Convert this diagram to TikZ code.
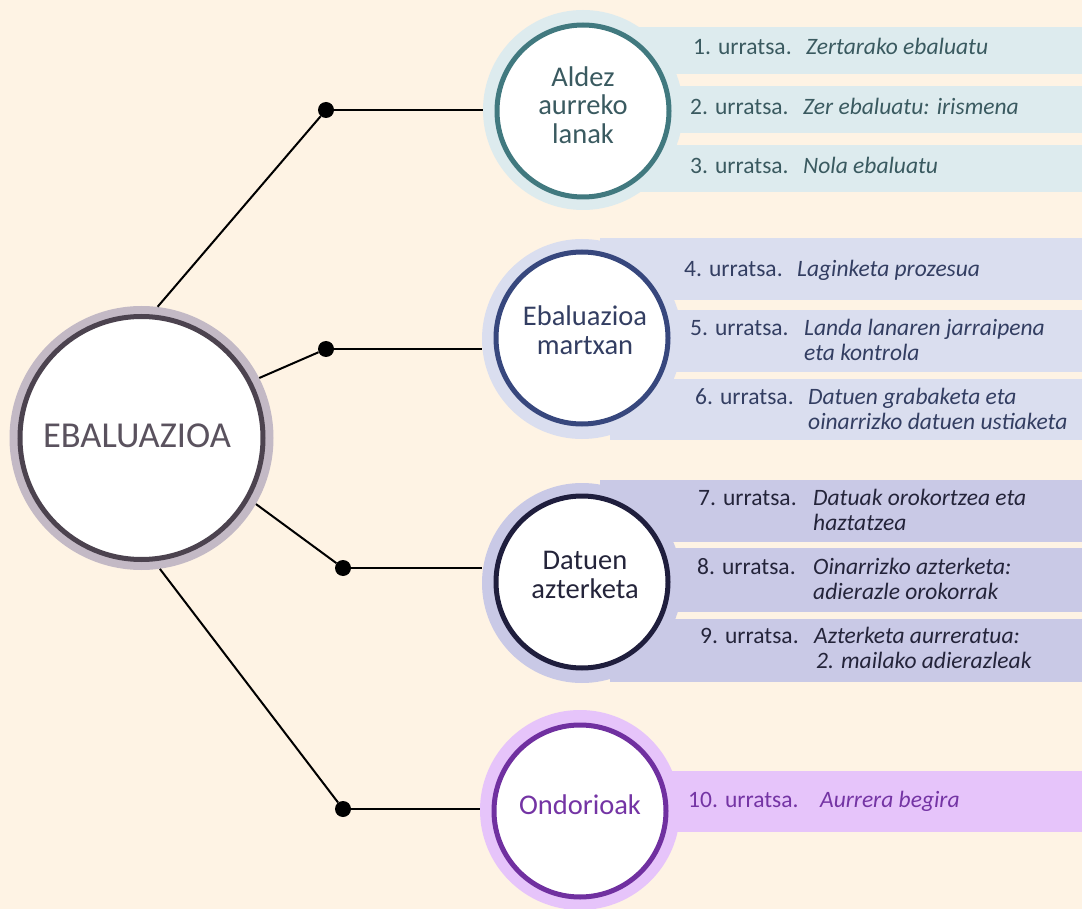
\documentclass[tikz,border=0pt]{standalone}
\usepackage{fontspec}
\setmainfont{Carlito}
\definecolor{bg}{HTML}{FEF3E4}
\definecolor{mhalo}{HTML}{C3B9C5}
\definecolor{mring}{HTML}{4C434F}
\definecolor{mtext}{HTML}{5A525E}
\definecolor{gAl}{HTML}{DDEBEE}
\definecolor{gAr}{HTML}{41797F}
\definecolor{gAt}{HTML}{3A5A60}
\definecolor{gBl}{HTML}{DADEEF}
\definecolor{gBr}{HTML}{37477D}
\definecolor{gBt}{HTML}{333E62}
\definecolor{gCl}{HTML}{C9C9E6}
\definecolor{gCr}{HTML}{1F1E3D}
\definecolor{gCt}{HTML}{24243A}
\definecolor{gDl}{HTML}{E6C4FA}
\definecolor{gDr}{HTML}{7030A0}
\definecolor{gDt}{HTML}{7434A4}
\newcommand{\twoline}[2]{\begin{tabular}[t]{@{}l@{}}#1\\#2\end{tabular}}
\begin{document}
\begin{tikzpicture}[x=1pt,y=-1pt,
  halo/.style={circle, minimum size=200, inner sep=0, outer sep=0},
  ringnode/.style={circle, draw, line width=5pt, fill=white, minimum size=172, inner sep=0},
  num/.style={anchor=base west, inner sep=0, font=\fontsize{23.5}{25}\selectfont},
  desc/.style={anchor=base west, inner sep=0, font=\fontsize{23.5}{25}\selectfont\itshape},
  ctext/.style={align=center, inner sep=0, font=\fontsize{28.5}{28.5}\selectfont},
  dotnode/.style={circle, fill=black, minimum size=16, inner sep=0},
  spoke/.style={line width=2pt},
  link/.style={line width=2.7pt}]
\fill[bg] (0,0) rectangle (1082,909);
\useasboundingbox (0,0) rectangle (1082,909);

% main circle
\node[circle, fill=mhalo, minimum size=264, inner sep=0] (mh) at (141.5,438) {};
\node[circle, draw=mring, line width=5pt, fill=white, minimum size=243, inner sep=0] (main) at (141.5,438) {};
\node[inner sep=0, text=mtext, font=\fontsize{36.5}{40}\selectfont] (mt) at (137,436) {EBALUAZIOA};

% halos
\node[halo, fill=gAl] (h1) at (583,110) {};
\node[halo, fill=gBl] (h2) at (582,339) {};
\node[halo, fill=gCl] (h3) at (582,583) {};
\node[halo, fill=gDl] (h4) at (580,810) {};

% bands
\fill[gAl] (610,27) rectangle (1082,74);
\fill[gAl] (610,86) rectangle (1082,133);
\fill[gAl] (610,145) rectangle (1082,192);
\fill[gBl] (600,238) rectangle (1082,300);
\fill[gBl] (610,310) rectangle (1082,372);
\fill[gBl] (610,379) rectangle (1082,440);
\fill[gCl] (600,480) rectangle (1082,542);
\fill[gCl] (610,548) rectangle (1082,612);
\fill[gCl] (610,619) rectangle (1082,682);
\fill[gDl] (610,771) rectangle (1082,832);

% rings
\node[ringnode, draw=gAr] (r1) at (583,111) {};
\node[ringnode, draw=gBr] (r2) at (582,338) {};
\node[ringnode, draw=gCr] (r3) at (582,582) {};
\node[ringnode, draw=gDr] (r4) at (580,811) {};

\node[ctext, text=gAt] (c1) at (583,105) {Aldez\\aurreko\\lanak};
\node[ctext, text=gBt] (c2) at (585,330) {Ebaluazioa\\martxan};
\node[ctext, text=gCt] (c3) at (585,575) {Datuen\\azterketa};
\node[ctext, text=gDt] (c4) at (580,805) {Ondorioak};

% dots and connectors
\node[dotnode] (d1) at (326,110) {};
\node[dotnode] (d2) at (326,349) {};
\node[dotnode] (d3) at (343,568) {};
\node[dotnode] (d4) at (343,809) {};
\draw[spoke] (d1) -- (mh.83);
\draw[spoke] (d2) -- (mh.27);
\draw[spoke] (d3) -- (mh.-30);
\draw[spoke] (d4) -- (mh.-82);
\draw[link] (d1) -- (d1 -| h1.west);
\draw[link] (d2) -- (d2 -| h2.west);
\draw[link] (d3) -- (d3 -| h3.west);
\draw[link] (d4) -- (d4 -| h4.west);

% steps group 1
\node[num, text=gAt] (n1) at (693,55) {1. urratsa.};
\node[desc, text=gAt] (s1) at (806,55) {Zertarako ebaluatu};
\node[num, text=gAt] (n2) at (690,115) {2. urratsa.};
\node[desc, text=gAt] (s2) at (803,115) {Zer ebaluatu: irismena};
\node[num, text=gAt] (n3) at (690,174) {3. urratsa.};
\node[desc, text=gAt] (s3) at (803,174) {Nola ebaluatu};
% group 2
\node[num, text=gBt] (n4) at (684,277) {4. urratsa.};
\node[desc, text=gBt] (s4) at (797,277) {Laginketa prozesua};
\node[num, text=gBt] (n5) at (690,336) {5. urratsa.};
\node[desc, text=gBt] (s5) at (804,336) {\twoline{Landa lanaren jarraipena}{eta kontrola}};
\node[num, text=gBt] (n6) at (695,404) {6. urratsa.};
\node[desc, text=gBt] (s6) at (808,404) {\twoline{Datuen grabaketa eta}{oinarrizko datuen ustiaketa}};
% group 3
\node[num, text=gCt] (n7) at (698,505) {7. urratsa.};
\node[desc, text=gCt] (s7) at (813,505) {\twoline{Datuak orokortzea eta}{haztatzea}};
\node[num, text=gCt] (n8) at (697,574) {8. urratsa.};
\node[desc, text=gCt] (s8) at (813,574) {\twoline{Oinarrizko azterketa:}{adierazle orokorrak}};
\node[num, text=gCt] (n9) at (700,643) {9. urratsa.};
\node[desc, text=gCt] (s9) at (814,643) {\twoline{Azterketa aurreratua:}{\hspace{2pt}2. mailako adierazleak}};
% group 4
\node[num, text=gDt] (n10) at (688,807) {10. urratsa.};
\node[desc, text=gDt] (s10) at (820,807) {Aurrera begira};
\end{tikzpicture}
\end{document}
